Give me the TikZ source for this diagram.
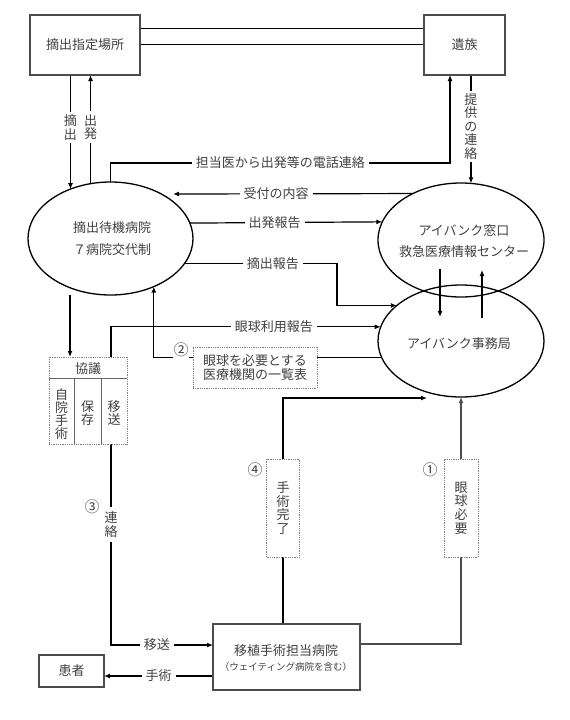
\documentclass[tikz,border=0pt]{standalone}
\usepackage{fontspec}
\setmainfont{Noto Sans CJK JP}
\usetikzlibrary{arrows.meta,shapes.geometric,backgrounds}
\begin{document}
\begin{tikzpicture}[x=1pt,y=-1pt,
  every node/.style={text=black!75},
  fs/.style={font=\fontsize{13}{15}\selectfont},
  box/.style={draw=black!70, line width=1.4pt, fill=white, inner sep=0pt, outer sep=0pt, fs},
  ell/.style={ellipse, draw=black, line width=1.3pt, inner sep=0pt, outer sep=0pt},
  dbox/.style={draw=black!50, densely dotted, line width=0.8pt, fill=white, inner sep=0pt, outer sep=0pt},
  lbl/.style={fill=white, inner xsep=4pt, inner ysep=1pt, fs},
  vlbl/.style={fill=white, inner xsep=1pt, inner ysep=3pt, align=center, font=\fontsize{13}{13.5}\selectfont},
  vtxt/.style={align=center, inner sep=0pt, font=\fontsize{13}{13.3}\selectfont},
  circ/.style={fill=white, inner sep=0pt, minimum width=16pt, minimum height=17pt, font=\fontsize{15}{16}\selectfont},
  conn/.style={line width=1.2pt, draw=black, -{Latex[length=6pt,width=5pt]}},
  plain/.style={line width=1.2pt, draw=black},
  kline/.style={line width=0.8pt, draw=black!60}
]
\useasboundingbox (0,0) rectangle (570,720);

% ---- nodes ----
\node[box, minimum width=110pt, minimum height=60pt] (A) at (85,45) {摘出指定場所};
\node[box, minimum width=81pt, minimum height=60pt] (B) at (464.5,45) {遺族};

\node[ell, minimum width=165pt, minimum height=113pt] (L) at (110.5,238.5) {};
\node[align=center, font=\fontsize{13}{22}\selectfont] (Lt) at (112,239) {摘出待機病院\\７病院交代制};

\node[ell, minimum width=166pt, minimum height=114pt] (R1) at (461,240) {};
\node[align=center, font=\fontsize{13}{21}\selectfont] (R1t) at (464,241.5) {アイバンク窓口\\救急医療情報センター};

\node[ell, minimum width=166pt, minimum height=112pt] (R2) at (461,341) {};
\node[fs] (R2t) at (459,344) {アイバンク事務局};

% 協議 table
\node[dbox, minimum width=78pt, minimum height=87pt] (K) at (88,400.5) {};
\draw[kline] (K.west |- 0,378) -- (K.east |- 0,378);
\draw[kline] (74,378) -- (74,0 |- K.south);
\draw[kline] (101,378) -- (101,0 |- K.south);
\node[fs] (Kh) at (88,368.5) {協議};
\node[vtxt] (K1) at (61.5,414) {自\\院\\手\\術};
\node[vtxt] (K2) at (87.5,413) {保\\存};
\node[vtxt] (K3) at (114,413) {移\\送};

\node[dbox, minimum width=124pt, minimum height=41pt, align=center, font=\fontsize{13}{14.5}\selectfont] (D2) at (255,367.5) {眼球を必要とする\\医療機関の一覧表};
\node[dbox, minimum width=33pt, minimum height=98pt, align=center, font=\fontsize{13}{13.7}\selectfont] (D4) at (283,508) {手\\術\\完\\了};
\node[dbox, minimum width=34pt, minimum height=98pt, align=center, font=\fontsize{13}{13.7}\selectfont] (D1) at (461,508) {眼\\球\\必\\要};

\node[box, minimum width=147pt, minimum height=66pt] (T) at (286.5,657) {};
\node[fs] (T1) at (286,651) {移植手術担当病院};
\node[font=\fontsize{9.5}{11}\selectfont] (T2) at (286,666.5) {（ウェイティング病院を含む）};

\node[box, minimum width=65pt, minimum height=32pt] (P) at (71.5,671) {患者};

\node[circ] (n1) at (430,470) {①};
\node[circ] (n2) at (181,350) {②};
\node[circ, fill=none] (n3) at (92,507) {③};
\node[circ, fill=none] (n4) at (255,470) {④};

% ---- connectors ----
\begin{pgfonlayer}{background}
\fill[white] (0,0) rectangle (570,720);

% double line
\draw[plain] ([yshift=16.5pt]A.east) -- ([yshift=16.5pt]B.west);
\draw[plain] ([yshift=0.7pt]A.east) -- ([yshift=0.7pt]B.west);

% 摘出 / 出発
\coordinate (l1) at (L.129.5);
\draw[conn] (A.south -| l1) -- node[vlbl, pos=0.46]{摘\\出} (l1);
\coordinate (l2) at (L.110.5);
\draw[conn] (l2) -- node[vlbl, pos=0.52]{出\\発} (l2 |- A.south);

% 担当医から出発等の電話連絡
\coordinate (b1) at ([xshift=-14.5pt]B.south);
\draw[conn] (L.north) -- (L.north |- 0,163) -- node[lbl]{担当医から出発等の電話連絡} (b1 |- 0,163) -- (b1);

% 提供の連絡
\coordinate (r1a) at (R1.80);
\draw[conn] (r1a |- B.south) -- node[vlbl, pos=0.475]{提\\供\\の\\連\\絡} (r1a);

% 受付の内容
\coordinate (ut) at (173,194);
\draw[conn] (R1.136.8) -- node[lbl, pos=0.57]{受付の内容} (ut);

% 出発報告
\draw[conn] (L.11.1) -- node[lbl, pos=0.44]{出発報告} (R1.167.9);

% 摘出報告
\coordinate (c1) at (337,285);
\draw[conn] (L.-19.1) -| node[lbl, pos=0.29]{摘出報告} (c1) |- (R2.151.6);

% between R1 and R2
\coordinate (d1) at (440,269); \coordinate (d2) at (440,317);
\draw[conn] (d1) -- (d2);
\coordinate (u1) at (482,318); \coordinate (u2) at (482,270);
\draw[conn] (u1) -- (u2);

% 眼球利用報告
\coordinate (k1) at ([xshift=23pt]K.north);
\draw[conn] (k1) |- node[lbl, pos=0.802]{眼球利用報告} (R2.170.1);

% ② list back to hospital
\coordinate (l3) at (L.-48.7);
\draw[conn] (R2.-168.6) -| (l3);

% to 協議
\coordinate (ka) at (70,295);
\draw[conn] (ka) -- (ka |- K.north);

% ③ 連絡 / 移送
\coordinate (k3) at ([xshift=23pt]K.south);
\coordinate (t1) at ([yshift=12pt]T.west);
\draw[conn] (k3) |- node[vlbl, pos=0.2, inner ysep=5pt]{連\\絡} node[lbl, pos=0.725]{移送} (t1);

% 手術
\coordinate (t2) at ([yshift=-19pt]T.west);
\draw[conn] (t2) -- node[lbl]{手術} (t2 -| P.east);

% ④ 手術完了
\coordinate (t4) at ([xshift=-3.5pt]T.north);
\coordinate (c4) at (427,398);
\draw[conn] (t4) |- (c4);

% ① 眼球必要
\coordinate (t5) at ([yshift=13pt]T.east);
\draw[conn, draw=black!70] (t5) -| (R2.south);
\end{pgfonlayer}
\end{tikzpicture}
\end{document}
